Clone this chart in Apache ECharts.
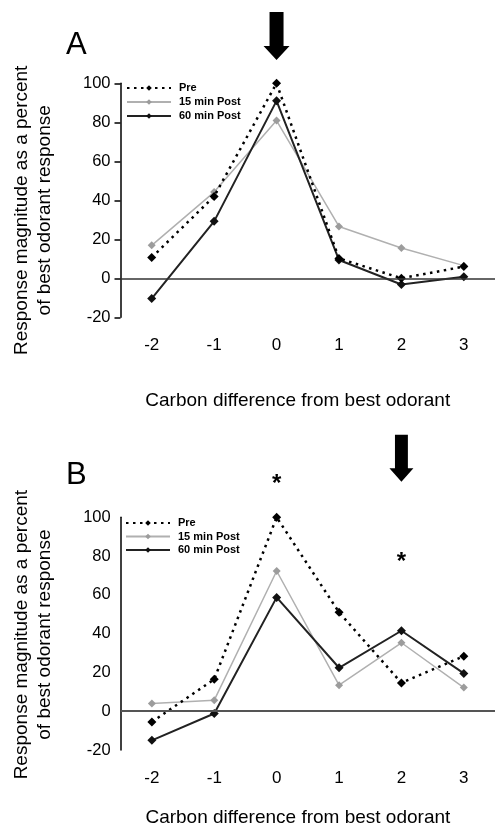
<!DOCTYPE html>
<html>
<head>
<meta charset="utf-8">
<script src="https://cdn.jsdelivr.net/npm/echarts@6/dist/echarts.min.js"></script>
<style>
  html, body { margin: 0; padding: 0; background: #fff; }
  #main { width: 495px; height: 828px; }
</style>
</head>
<body>
<div id="main"></div>
<script>
// categories (carbon difference from best odorant)
var carbonDiff = ['-2', '-1', '0', '1', '2', '3'];
var seriesNames = ['Pre', '15 min Post', '60 min Post'];

// panel A values (% of best odorant response)
var preA = [10.7, 42, 100, 10.2, 0, 6];
var post15A = [16.9, 44.2, 80.9, 26.6, 15.5, 6.5];
var post60A = [-10.4, 29.2, 91, 9.4, -3.2, 0.8];

// panel B values
var preB = [-5.5, 16.5, 100, 51, 14.6, 28.4];
var post15B = [4, 5.7, 72.3, 13.4, 35.3, 12.2];
var post60B = [-15, -1.2, 58.7, 22.4, 41.5, 19.5];

// annotations: arrow over best odorant, significance stars
var arrowA = [['0', 124.2]];
var arrowB = [['2', 130.4]];
var starsB = [['0', 119], ['2', 79]];

var FONT = 'Liberation Sans, Arial, sans-serif';
var arrowPath = 'path://M6,0 L20,0 L20,34 L26,34 L13,48 L0,34 L6,34 Z';

var chart = echarts.init(document.getElementById('main'));

function lineStyles(name) {
  if (name === 'Pre') {
    return { color: '#000', lineStyle: { color: '#000', width: 2.5, type: [2.5, 4.5] }, size: 9 };
  }
  if (name === '15 min Post') {
    return { color: '#9c9c9c', lineStyle: { color: '#b0b0b0', width: 1.5, type: 'solid' }, size: 8 };
  }
  return { color: '#111', lineStyle: { color: '#222', width: 2, type: 'solid' }, size: 9 };
}

function makeSeries(name, data, idx) {
  var st = lineStyles(name);
  return {
    name: name,
    type: 'line',
    xAxisIndex: idx,
    yAxisIndex: idx,
    data: data,
    symbol: 'diamond',
    symbolSize: st.size,
    itemStyle: { color: st.color },
    lineStyle: st.lineStyle,
    z: name === 'Pre' ? 4 : (name === '60 min Post' ? 3 : 2)
  };
}

function zeroLine(color, width) {
  return {
    silent: true,
    symbol: ['none', 'none'],
    label: { show: false },
    lineStyle: { color: color, width: width, type: 'solid' },
    data: [{ yAxis: 0 }]
  };
}

// arrow drawn as a scatter point above the plot (clip off so it can sit over the axis max)
function arrowSeries(data, idx, w, h) {
  return {
    type: 'scatter',
    xAxisIndex: idx,
    yAxisIndex: idx,
    data: data,
    symbol: arrowPath,
    symbolSize: [w, h],
    itemStyle: { color: '#000', opacity: 1 },
    clip: false,
    silent: true,
    z: 5
  };
}

function starSeries(data, idx) {
  return {
    type: 'scatter',
    xAxisIndex: idx,
    yAxisIndex: idx,
    data: data,
    symbol: 'circle',
    symbolSize: 1,
    itemStyle: { color: 'rgba(0,0,0,0)', opacity: 1 },
    label: { show: true, position: 'inside', formatter: '*', color: '#000', fontSize: 24, fontWeight: 'bold', fontFamily: FONT, offset: [0, 4] },
    clip: false,
    silent: true,
    z: 5
  };
}

function xAxisFor(idx, gap) {
  return {
    type: 'category',
    gridIndex: idx,
    data: carbonDiff,
    boundaryGap: true,
    axisLine: { show: false, onZero: false },
    axisTick: { show: false },
    axisLabel: { color: '#000', fontSize: 17, fontFamily: FONT, margin: 20 },
    name: 'Carbon difference from best odorant',
    nameLocation: 'middle',
    nameGap: gap,
    nameTextStyle: { color: '#000', fontSize: 19, fontFamily: FONT, padding: [0, 20, 0, 0] }
  };
}

function yAxisFor(idx, ticks, namePad) {
  return {
    type: 'value',
    gridIndex: idx,
    min: -20,
    max: 100,
    interval: 20,
    splitLine: { show: false },
    axisLine: { show: true, lineStyle: { color: '#000', width: 1.5 } },
    axisTick: { show: ticks, length: 6, lineStyle: { color: '#000', width: 1.5 } },
    axisLabel: { color: '#000', fontSize: 16.5, fontFamily: FONT, margin: 10 },
    name: 'Response magnitude as a percent\nof best odorant response',
    nameLocation: 'middle',
    nameGap: 64,
    nameTextStyle: { color: '#000', fontSize: 19, lineHeight: 23, fontFamily: FONT, padding: namePad }
  };
}

function legendFor(left, top, gap) {
  return {
    data: seriesNames,
    orient: 'vertical',
    left: left,
    top: top,
    padding: 0,
    itemWidth: 44,
    itemHeight: 7,
    itemGap: gap,
    selectedMode: false,
    textStyle: { color: '#000', fontSize: 11, fontWeight: 'bold', fontFamily: FONT, lineHeight: 12, padding: [0, 0, 0, 3] }
  };
}

var seriesA = [
  makeSeries('Pre', preA, 0),
  makeSeries('15 min Post', post15A, 0),
  makeSeries('60 min Post', post60A, 0),
  arrowSeries(arrowA, 0, 26, 48)
];
seriesA[0].markLine = zeroLine('#333', 1.5);

var seriesB = [
  makeSeries('Pre', preB, 1),
  makeSeries('15 min Post', post15B, 1),
  makeSeries('60 min Post', post60B, 1),
  arrowSeries(arrowB, 1, 24, 47),
  starSeries(starsB, 1)
];
seriesB[0].markLine = zeroLine('#555', 2);

var option = {
  backgroundColor: '#fff',
  animation: false,
  textStyle: { fontFamily: FONT },
  title: [
    { text: 'A', left: 61, top: 25, padding: 5, textStyle: { fontSize: 31, fontWeight: 'normal', color: '#000', fontFamily: FONT } },
    { text: 'B', left: 61, top: 455, padding: 5, textStyle: { fontSize: 31, fontWeight: 'normal', color: '#000', fontFamily: FONT } }
  ],
  legend: [legendFor(126, 82, 2), legendFor(125, 517, 1.5)],
  grid: [
    { left: 120.5, top: 83.3, width: 377, height: 234 },
    { left: 120.7, top: 517.3, width: 377, height: 232.7 }
  ],
  xAxis: [xAxisFor(0, 74), xAxisFor(1, 58)],
  yAxis: [yAxisFor(0, true, [0, 20, 0, 0]), yAxisFor(1, false, [0, 2, 0, 0])],
  series: seriesA.concat(seriesB)
};

chart.setOption(option);
</script>
</body>
</html>
